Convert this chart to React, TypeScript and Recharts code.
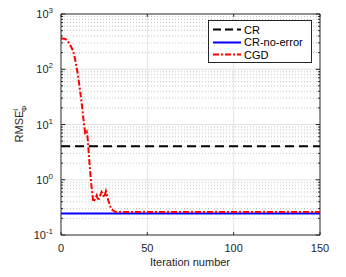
import React from "react";
import {
  LineChart,
  Line,
  XAxis,
  YAxis,
  ReferenceLine,
} from "recharts";

// CGD error per iteration
const cgdIters = [0, 2, 3, 4, 5, 6, 7, 8, 9, 10, 11, 12, 13, 14, 14.9, 15.5, 16, 16.8, 17.5, 18.7, 19.5, 20.7, 21.6, 22.5, 23.5, 25, 26, 27.4, 29, 30, 31.3, 33, 150];
const cgdValues = [360, 355, 345, 320, 290, 250, 215, 160, 110, 72, 42, 24, 12.5, 7, 7.5, 5.4, 3.2, 1.5, 0.85, 0.4, 0.43, 0.52, 0.42, 0.5, 0.6, 0.48, 0.62, 0.42, 0.3, 0.28, 0.265, 0.26, 0.26];

const crLevel = 4.05;
const noErrorLevel = 0.245;
const iterRange = [0, 150];

const xTicks = [0, 50, 100, 150];
const yTicks = [0.1, 1, 10, 100, 1000];
const yExponents = ["-1", "0", "1", "2", "3"];
const yMinor = [
  0.2, 0.3, 0.4, 0.5, 0.6, 0.7, 0.8, 0.9,
  2, 3, 4, 5, 6, 7, 8, 9,
  20, 30, 40, 50, 60, 70, 80, 90,
  200, 300, 400, 500, 600, 700, 800, 900,
];

const cgdData = cgdIters.map((x, i) => ({ x, v: cgdValues[i] }));
const crData = iterRange.map((x) => ({ x, v: crLevel }));
const noErrorData = iterRange.map((x) => ({ x, v: noErrorLevel }));

const FONT = "'Liberation Sans', Arial, sans-serif";
const AXIS = "#262626";

const YTick = (props: any) => {
  const { x, y, payload } = props;
  const idx = yTicks.indexOf(payload.value);
  return (
    <text x={x} y={y + 4} textAnchor="end" fontSize={11} fill={AXIS} fontFamily={FONT}>
      10
      <tspan dy={-5} fontSize={8}>{yExponents[idx]}</tspan>
    </text>
  );
};

const XTick = (props: any) => {
  const { x, y, payload } = props;
  return (
    <text x={x} y={y + 9} textAnchor="middle" fontSize={11} fill={AXIS} fontFamily={FONT}>
      {payload.value}
    </text>
  );
};

const YLabel = () => (
  <text
    transform="translate(23,124) rotate(-90)"
    textAnchor="middle"
    fontSize={11}
    fill={AXIS}
    fontFamily={FONT}
  >
    RMSE
    <tspan dy={-5} fontSize={8}>i</tspan>
    <tspan dx={-3} dy={9} fontSize={8}>Φ</tspan>
  </text>
);

const legendItems = [
  { name: "CR", color: "#000000", dash: "8 4" },
  { name: "CR-no-error", color: "#0000ff", dash: "" },
  { name: "CGD", color: "#ff0000", dash: "6 2 2 2" },
];

const LegendBox = () => (
  <div
    style={{
      position: "absolute",
      left: 208,
      top: 20,
      width: 102,
      height: 41,
      border: `1px solid ${AXIS}`,
      background: "#fff",
      fontFamily: FONT,
      fontSize: 11,
      color: "#000",
    }}
  >
    {legendItems.map((it, i) => (
      <div key={it.name} style={{ position: "absolute", left: 4, top: 2 + i * 12.5, height: 13, display: "flex", alignItems: "center" }}>
        <svg width={28} height={13}>
          <line x1={0} x2={28} y1={6.5} y2={6.5} stroke={it.color} strokeWidth={2} strokeDasharray={it.dash} />
        </svg>
        <span style={{ marginLeft: 3 }}>{it.name}</span>
      </div>
    ))}
  </div>
);

export default function App() {
  return (
    <div style={{ position: "absolute", left: 0, top: 0, width: 346, height: 277, background: "#fff" }}>
      <LineChart
        width={346}
        height={277}
        margin={{ top: 14, right: 26, left: 0, bottom: 12 }}
      >
        <XAxis
          type="number"
          dataKey="x"
          domain={[0, 150]}
          ticks={xTicks}
          tick={<XTick />}
          tickLine={false}
          axisLine={{ stroke: AXIS }}
          height={30}
          allowDataOverflow
        />
        <YAxis
          type="number"
          dataKey="v"
          scale="log"
          domain={[0.1, 1000]}
          ticks={yTicks}
          tick={<YTick />}
          tickLine={false}
          axisLine={{ stroke: AXIS }}
          width={61}
          allowDataOverflow
        />
        {yMinor.map((v) => (
          <ReferenceLine key={"mg" + v} y={v} stroke="#c8c8c8" strokeDasharray="1 2" />
        ))}
        {yTicks.slice(1, -1).map((v) => (
          <ReferenceLine key={"g" + v} y={v} stroke="#e3e3e3" />
        ))}
        {xTicks.slice(1, -1).map((v) => (
          <ReferenceLine key={"gx" + v} x={v} stroke="#e3e3e3" />
        ))}
        {yMinor.map((v) => (
          <ReferenceLine key={"mtl" + v} segment={[{ x: 0, y: v }, { x: 1.2, y: v }]} stroke={AXIS} />
        ))}
        {yMinor.map((v) => (
          <ReferenceLine key={"mtr" + v} segment={[{ x: 148.8, y: v }, { x: 150, y: v }]} stroke={AXIS} />
        ))}
        {yTicks.map((v) => (
          <ReferenceLine key={"tl" + v} segment={[{ x: 0, y: v }, { x: 2.5, y: v }]} stroke={AXIS} />
        ))}
        {yTicks.map((v) => (
          <ReferenceLine key={"tr" + v} segment={[{ x: 147.5, y: v }, { x: 150, y: v }]} stroke={AXIS} />
        ))}
        {xTicks.map((v) => (
          <ReferenceLine key={"tb" + v} segment={[{ x: v, y: 0.1 }, { x: v, y: 0.1125 }]} stroke={AXIS} />
        ))}
        {xTicks.map((v) => (
          <ReferenceLine key={"tt" + v} segment={[{ x: v, y: 1000 }, { x: v, y: 890 }]} stroke={AXIS} />
        ))}
        <ReferenceLine x={150} stroke={AXIS} />
        <ReferenceLine y={1000} stroke={AXIS} />
        <Line
          data={crData}
          dataKey="v"
          stroke="#000000"
          strokeWidth={2}
          strokeDasharray="9 5"
          dot={false}
          isAnimationActive={false}
          type="linear"
        />
        <Line
          data={noErrorData}
          dataKey="v"
          stroke="#0000ff"
          strokeWidth={2}
          dot={false}
          isAnimationActive={false}
          type="linear"
        />
        <Line
          data={cgdData}
          dataKey="v"
          stroke="#ff0000"
          strokeWidth={2}
          strokeDasharray="6 2 2 2"
          dot={false}
          isAnimationActive={false}
          type="linear"
        />
      </LineChart>
      <svg width={346} height={277} style={{ position: "absolute", left: 0, top: 0, pointerEvents: "none" }}>
        <YLabel />
        <text x={190} y={266} textAnchor="middle" fontSize={11} fill={AXIS} fontFamily={FONT}>
          Iteration number
        </text>
      </svg>
      <LegendBox />
    </div>
  );
}
